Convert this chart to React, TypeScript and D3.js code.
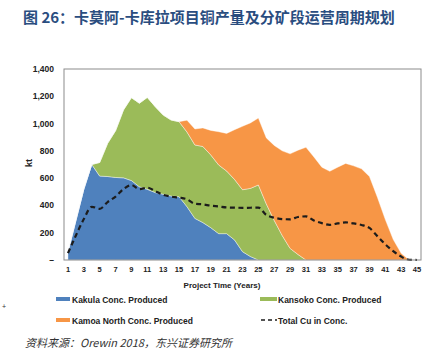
import React from "react";
import * as d3 from "d3";

// project years 1..45
const years = [
  1, 2, 3, 4, 5, 6, 7, 8, 9, 10, 11, 12, 13, 14, 15, 16, 17, 18, 19, 20, 21, 22, 23,
  24, 25, 26, 27, 28, 29, 30, 31, 32, 33, 34, 35, 36, 37, 38, 39, 40, 41, 42, 43, 44, 45,
];
const kakula = [
  60, 290, 520, 700, 615, 612, 605, 602, 582, 537, 518, 494, 482, 469, 464, 391, 305, 274, 237, 193, 193, 147, 61,
  25, 0, 0, 0, 0, 0, 0, 0, 0, 0, 0, 0, 0, 0, 0, 0, 0, 0, 0, 0, 0, 0,
];
const kansoko = [
  0, 0, 0, 0, 100, 243, 343, 498, 608, 612, 674, 630, 581, 557, 550, 547, 538, 558, 533, 503, 459, 443, 454,
  500, 550, 411, 290, 180, 85, 40, 0, 0, 0, 0, 0, 0, 0, 0, 0, 0, 0, 0, 0, 0, 0,
];
const kamoaNorth = [
  0, 0, 0, 0, 0, 0, 0, 0, 0, 0, 0, 0, 0, 0, 0, 87, 117, 136, 180, 244, 276, 365, 465,
  480, 490, 484, 550, 620, 693, 765, 826, 755, 680, 650, 680, 708, 690, 668, 612, 460, 296, 150, 49, 0, 0,
];
const totalCu = [
  50, 180, 300, 390, 375, 425, 465, 520, 550, 520, 530, 505, 478, 465, 457, 445, 412, 408, 398, 392, 385, 384, 382,
  383, 384, 330, 310, 300, 298, 315, 320, 290, 270, 258, 268, 276, 268, 257, 235, 175, 115, 65, 25, 2, 0,
];
const yTicks = [0, 200, 400, 600, 800, 1000, 1200, 1400];
const xTickLabels = years.filter((y) => y % 2 === 1);

const seriesKeys = ["kakula", "kansoko", "kamoa"];
const seriesColors = ["#4f81bd", "#9bbb59", "#f79646"];

const left = 64;
const right = 421;
const top = 69;
const bottom = 260;

const font = "'Liberation Sans', Arial, sans-serif";
const cjk = "'Noto Sans CJK SC', sans-serif";

export default function App() {
  const x = d3.scalePoint<number>().domain(years).range([left, right]).padding(0.5);
  const y = d3.scaleLinear().domain([0, 1400]).range([bottom, top]);

  const rows = years.map((yr, i) => ({
    year: yr,
    kakula: kakula[i],
    kansoko: kansoko[i],
    kamoa: kamoaNorth[i],
  }));
  const stacked = d3.stack<any>().keys(seriesKeys)(rows);

  const area = d3
    .area<any>()
    .x((d) => x(d.data.year) as number)
    .y0((d) => y(d[0]))
    .y1((d) => y(d[1]));

  const line = d3
    .line<number>()
    .x((_, i) => x(years[i]) as number)
    .y((d) => y(d))
    .curve(d3.curveMonotoneX);

  const fmt = d3.format(",");

  return (
    <svg width={445} height={352} style={{ position: "absolute", left: 0, top: 0 }}>
      <rect width={445} height={352} fill="#fff" />
      <text x={23} y={23} fontFamily={cjk} fontSize={15} fontWeight="bold" fill="#2a4d7f">
        图 26：卡莫阿-卡库拉项目铜产量及分矿段运营周期规划
      </text>

      {stacked.map((s, i) => (
        <path key={s.key} d={area(s) || ""} fill={seriesColors[i]} stroke="#fff" strokeWidth={0.4} />
      ))}
      <path
        d={line(totalCu) || ""}
        fill="none"
        stroke="#1c1c1c"
        strokeWidth={2.2}
        strokeDasharray="5,3.5"
      />

      <rect x={left} y={top} width={right - left} height={bottom - top} fill="none" stroke="#8c8c8c" strokeWidth={1} />

      {yTicks.map((t) => (
        <text
          key={t}
          x={54}
          y={y(t) + 3}
          textAnchor="end"
          fontFamily={font}
          fontSize={8.5}
          fontWeight="bold"
          fill="#222"
        >
          {t === 0 ? "–" : fmt(t)}
        </text>
      ))}
      <text
        transform="translate(32,163) rotate(-90)"
        textAnchor="middle"
        fontFamily={font}
        fontSize={9}
        fontWeight="bold"
        fill="#222"
      >
        kt
      </text>

      {xTickLabels.map((t) => (
        <text
          key={t}
          x={x(t) as number}
          y={272}
          textAnchor="middle"
          fontFamily={font}
          fontSize={7.5}
          fontWeight="bold"
          fill="#222"
        >
          {t}
        </text>
      ))}
      <text x={222} y={288} textAnchor="middle" fontFamily={font} fontSize={8} fontWeight="bold" fill="#222">
        Project Time (Years)
      </text>

      <rect x={56} y={297} width={14} height={4} fill={seriesColors[0]} />
      <text x={72} y={302.5} fontFamily={font} fontSize={8.5} fontWeight="bold" fill="#222">
        Kakula Conc. Produced
      </text>
      <rect x={260} y={297} width={17} height={4} fill={seriesColors[1]} />
      <text x={278} y={302.5} fontFamily={font} fontSize={8.5} fontWeight="bold" fill="#222">
        Kansoko Conc. Produced
      </text>
      <rect x={56} y={318} width={14} height={4} fill={seriesColors[2]} />
      <text x={72} y={323.5} fontFamily={font} fontSize={8.5} fontWeight="bold" fill="#222">
        Kamoa North Conc. Produced
      </text>
      <line x1={261} x2={277} y1={320} y2={320} stroke="#1c1c1c" strokeWidth={1.6} strokeDasharray="4,3" />
      <text x={278} y={323.5} fontFamily={font} fontSize={8.5} fontWeight="bold" fill="#222">
        Total Cu in Conc.
      </text>

      <text x={2} y={309} fontFamily={font} fontSize={7} fill="#333">
        +
      </text>

      <text x={25} y={347} fontFamily={cjk} fontSize={11} fontStyle="italic" fill="#333">
        资料来源：Orewin 2018，东兴证券研究所
      </text>
    </svg>
  );
}
